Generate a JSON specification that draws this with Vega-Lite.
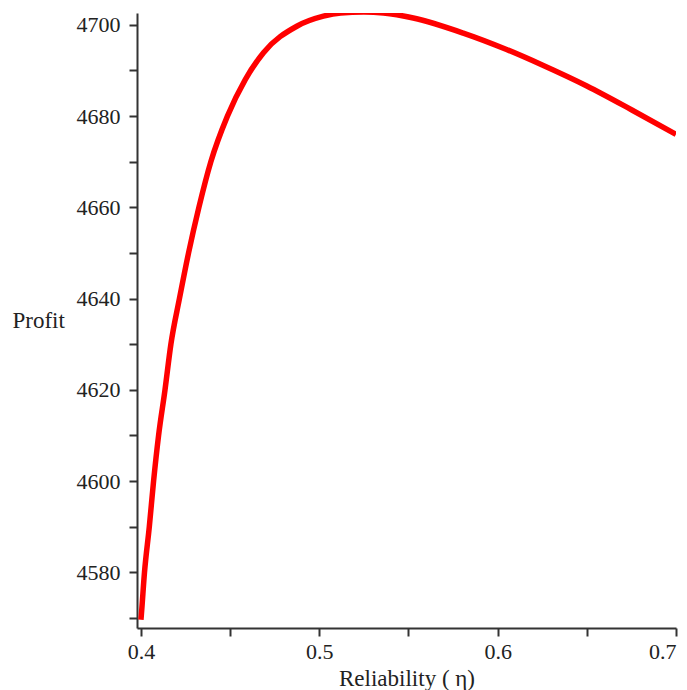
{
  "$schema": "https://vega.github.io/schema/vega-lite/v6.json",
  "autosize": "none",
  "padding": {"left": 137, "top": 13, "right": 11, "bottom": 62},
  "width": 539,
  "height": 615,
  "background": "white",
  "config": {"view": {"stroke": null}, "font": "Liberation Serif"},
  "data": {"values": [
    {"eta": 0.4, "profit": 4569.6},
    {"eta": 0.4002, "profit": 4570.5},
    {"eta": 0.402, "profit": 4580},
    {"eta": 0.4047, "profit": 4590},
    {"eta": 0.4071, "profit": 4600},
    {"eta": 0.4099, "profit": 4610},
    {"eta": 0.4135, "profit": 4620},
    {"eta": 0.4168, "profit": 4630},
    {"eta": 0.4216, "profit": 4640},
    {"eta": 0.4267, "profit": 4650},
    {"eta": 0.4325, "profit": 4660},
    {"eta": 0.4392, "profit": 4670},
    {"eta": 0.4485, "profit": 4680},
    {"eta": 0.4585, "profit": 4688},
    {"eta": 0.4687, "profit": 4693.9},
    {"eta": 0.4874, "profit": 4699.7},
    {"eta": 0.5023, "profit": 4701.9},
    {"eta": 0.512, "profit": 4702.6},
    {"eta": 0.525, "profit": 4702.8},
    {"eta": 0.536, "profit": 4702.6},
    {"eta": 0.5527, "profit": 4701.5},
    {"eta": 0.5807, "profit": 4698.2},
    {"eta": 0.605, "profit": 4694.6},
    {"eta": 0.625, "profit": 4691.2},
    {"eta": 0.65, "profit": 4686.6},
    {"eta": 0.675, "profit": 4681.4},
    {"eta": 0.7, "profit": 4676}
  ]},
  "mark": {"type": "line", "color": "#ff0000", "strokeWidth": 5.5, "interpolate": "monotone", "clip": true},
  "encoding": {
    "x": {
      "field": "eta", "type": "quantitative",
      "scale": {"domain": [0.3978, 0.7], "nice": false, "zero": false},
      "axis": {
        "title": "Reliability ( η)",
        "values": [0.4, 0.45, 0.5, 0.55, 0.6, 0.65, 0.7],
        "labelExpr": "abs(datum.value*10 - round(datum.value*10)) < 0.01 ? format(datum.value, '.1f') : ''",
        "grid": false,
        "domainColor": "#333333", "domainWidth": 2,
        "tickColor": "#333333", "tickWidth": 2, "tickSize": 8,
        "labelFont": "Liberation Serif", "labelFontSize": 22, "labelColor": "#222222", "labelPadding": 5,
        "titleFont": "Liberation Serif", "titleFontSize": 23, "titleFontWeight": "normal", "titleColor": "#222222", "titlePadding": 5
      }
    },
    "y": {
      "field": "profit", "type": "quantitative",
      "scale": {"domain": [4567.8, 4702.6], "nice": false, "zero": false},
      "axis": {
        "title": "Profit",
        "values": [4570, 4580, 4590, 4600, 4610, 4620, 4630, 4640, 4650, 4660, 4670, 4680, 4690, 4700],
        "labelExpr": "datum.value % 20 == 0 ? format(datum.value, 'd') : ''",
        "grid": false,
        "domainColor": "#333333", "domainWidth": 2,
        "tickColor": "#333333", "tickWidth": 2, "tickSize": 8,
        "labelFont": "Liberation Serif", "labelFontSize": 22, "labelColor": "#222222", "labelPadding": 9,
        "titleFont": "Liberation Serif", "titleFontSize": 23, "titleFontWeight": "normal", "titleColor": "#222222",
        "titleAngle": 0, "titleAlign": "left", "titleBaseline": "middle", "titleX": -125, "titleY": 307
      }
    }
  }
}
